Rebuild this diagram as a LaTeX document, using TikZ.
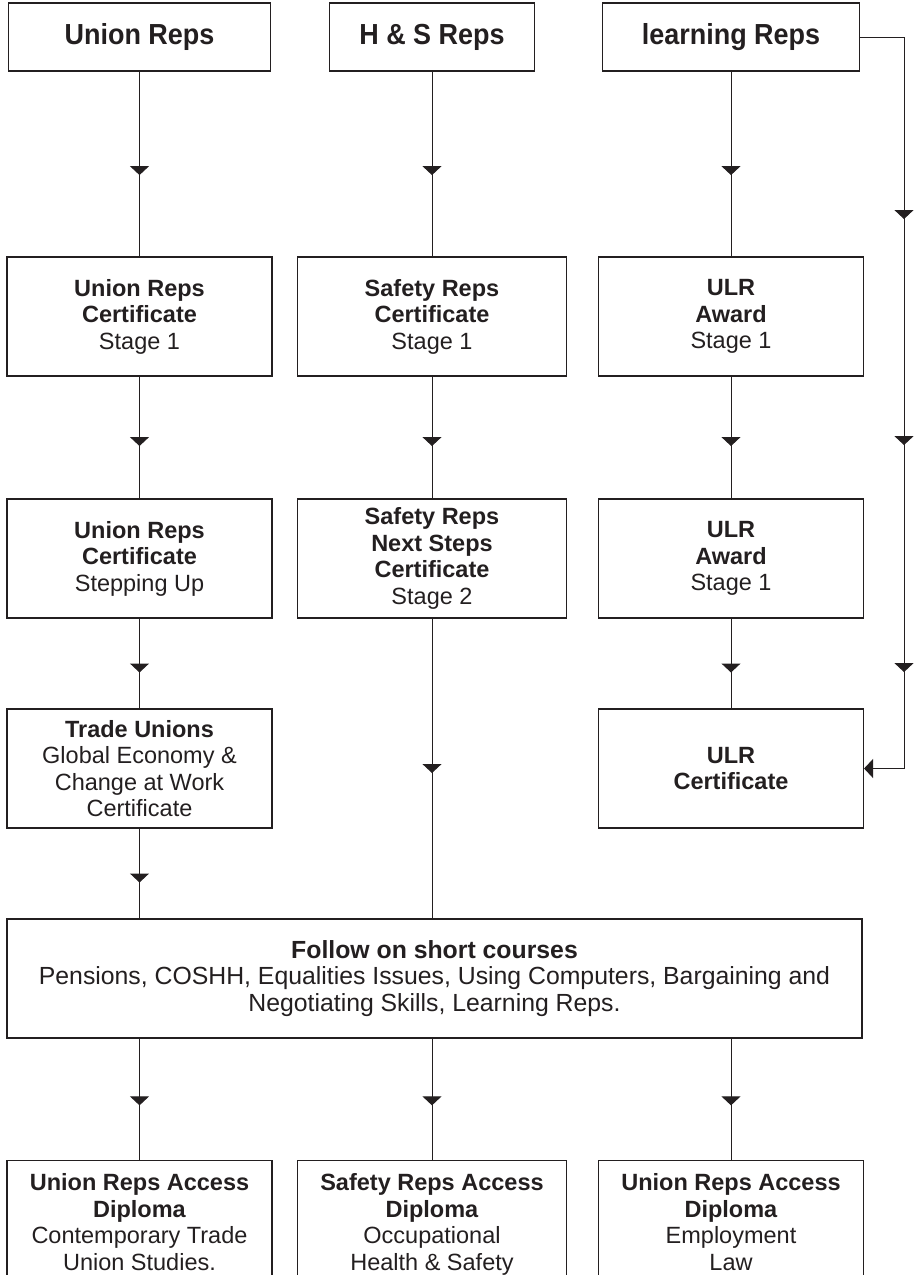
\documentclass[tikz,border=0pt]{standalone}
\usepackage{fontspec}
\setmainfont{Liberation Sans}
\newfontfamily\hdrfont[FakeStretch=0.93]{Liberation Sans}
\usetikzlibrary{arrows.meta,decorations.markings}
\definecolor{ink}{RGB}{35,31,32}

\begin{document}
\begin{tikzpicture}[x=1pt,y=-1pt,>={Triangle[length=9pt,width=19pt]},
  hdr/.style={draw=ink,line width=1.1pt,text=ink,minimum height=68pt,inner sep=0pt,font=\hdrfont\bfseries\fontsize{29}{32}\selectfont},
  box/.style={draw=ink,line width=1.1pt,text=ink,align=center,minimum width=265pt,minimum height=119pt,inner sep=0pt,font=\fontsize{23.5}{26.5}\selectfont},
  foot/.style={draw=ink,line width=1.1pt,text=ink,align=center,anchor=north,minimum width=265pt,inner xsep=0pt,inner ysep=13pt,font=\fontsize{23.5}{26.5}\selectfont},
  link/.style={draw=ink,line width=1pt},
  midarr/.style={postaction={decorate},decoration={markings,mark=at position #1 with {\arrow{>}}}},
  railarr/.style={postaction={decorate},decoration={markings,
    mark=at position 226pt with {\arrow{>}},
    mark=at position 452pt with {\arrow{>}},
    mark=at position 679pt with {\arrow{>}}}}]
\useasboundingbox (0,0) rectangle (917,1275);
\clip (0,0) rectangle (917,1275);
\node[hdr,minimum width=262pt] (hUnion) at (139.5,37) {Union Reps};
\node[hdr,minimum width=205pt] (hSafety) at (432,37) {H \& S Reps};
\node[hdr,minimum width=257pt] (hLearn) at (731,37) {learning Reps};
\node[box] (uCert1) at (139.5,316.5) {\textbf{Union Reps}\\\textbf{Certificate}\\Stage 1};
\node[box,minimum width=269pt] (sCert1) at (432,316.5) {\textbf{Safety Reps}\\\textbf{Certificate}\\Stage 1};
\node[box] (lAward1) at (731,316.5) {\textbf{ULR}\\\textbf{Award}\\Stage 1};
\node[box] (uCert2) at (139.5,558.5) {\textbf{Union Reps}\\\textbf{Certificate}\\Stepping Up};
\node[box,minimum width=269pt] (sCert2) at (432,558.5) {\textbf{Safety Reps}\\\textbf{Next Steps}\\\textbf{Certificate}\\Stage 2};
\node[box] (lAward2) at (731,558.5) {\textbf{ULR}\\\textbf{Award}\\Stage 1};
\node[box] (uTrade) at (139.5,768.5) {\textbf{Trade Unions}\\Global Economy \&\\Change at Work\\Certificate};
\node[box] (lCert) at (731,768.5) {\textbf{ULR}\\\textbf{Certificate}};
\node[box,minimum width=855pt,font=\fontsize{24.8}{26.5}\selectfont] (follow) at (434.5,978.5) {\textbf{Follow on short courses}\\Pensions, COSHH, Equalities Issues, Using Computers, Bargaining and\\Negotiating Skills, Learning Reps.};
\node[foot] (uAccess) at (139.5,1160) {\textbf{Union Reps Access}\\\textbf{Diploma}\\Contemporary Trade\\Union Studies.};
\node[foot,minimum width=269pt] (sAccess) at (432,1160) {\textbf{Safety Reps Access}\\\textbf{Diploma}\\Occupational\\Health \& Safety};
\node[foot] (eAccess) at (731,1160) {\textbf{Union Reps Access}\\\textbf{Diploma}\\Employment\\Law};
\coordinate (rail) at (904,37);
\draw[link,midarr=0.56] (hUnion) -- (uCert1);
\draw[link,midarr=0.56] (hSafety) -- (sCert1);
\draw[link,midarr=0.56] (hLearn) -- (lAward1);
\draw[link,midarr=0.57] (uCert1) -- (uCert2);
\draw[link,midarr=0.57] (sCert1) -- (sCert2);
\draw[link,midarr=0.57] (lAward1) -- (lAward2);
\draw[link,midarr=0.6] (uCert2) -- (uTrade);
\draw[link,midarr=0.6] (lAward2) -- (lCert);
\draw[link,midarr=0.6] (uTrade.south) -- (uTrade.south |- follow.north);
\draw[link,midarr=0.515] (sCert2.south) -- (sCert2.south |- follow.north);
\draw[link,railarr,->] (hLearn.east) -- (rail) |- (lCert.east);
\draw[link,midarr=0.55] (follow.south -| uAccess.north) -- (uAccess.north);
\draw[link,midarr=0.55] (follow.south -| sAccess.north) -- (sAccess.north);
\draw[link,midarr=0.55] (follow.south -| eAccess.north) -- (eAccess.north);
\end{tikzpicture}
\end{document}
